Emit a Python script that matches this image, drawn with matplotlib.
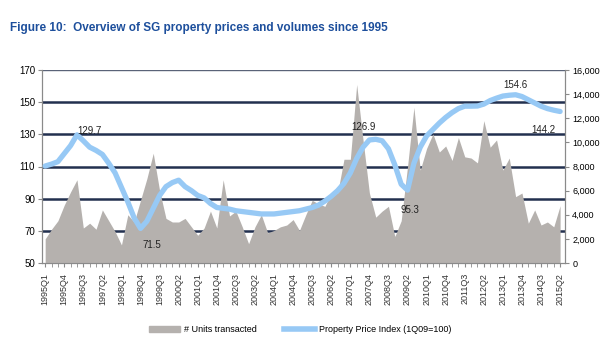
import numpy as np
import matplotlib
matplotlib.use("Agg")
import matplotlib.pyplot as plt
from matplotlib.patches import Patch
from matplotlib.lines import Line2D

plt.rcParams['font.family'] = ['Liberation Sans', 'DejaVu Sans']

# quarters 1995Q1 .. 2015Q2
quarters = [f"{y}Q{q}" for y in range(1995, 2016) for q in range(1, 5)][:82]

# units transacted (right axis)
units = [2000, 2800, 3500, 4800, 5900, 6900, 2900, 3300, 2800, 4400,
         3500, 2600, 1500, 4000, 3400, 5200, 7000, 9100, 6000, 3700,
         3400, 3400, 3700, 3000, 2300, 2900, 4300, 2900, 6900, 3900,
         4300, 3000, 1600, 3000, 4000, 2500, 2700, 3000, 3150, 3600,
         2700, 4000, 5200, 4900, 4700, 5800, 5800, 8600, 8600, 14800,
         10200, 5800, 3800, 4300, 4700, 2200, 3500, 8000, 12900, 7700,
         9500, 10700, 9200, 9700, 8500, 10400, 8800, 8700, 8300, 11800,
         9600, 10200, 7700, 8700, 5500, 5800, 3300, 4400, 3150, 3400,
         3000, 4750]

# property price index, 1Q09=100 (left axis)
ppi = [110.3, 111.5, 113, 118, 123, 129.7, 126, 122, 120, 117.5,
       112, 106, 97, 88, 78, 71.5, 76, 84, 92, 97.5,
       100, 101.5, 97.5, 95, 92, 90.5, 87, 84.5, 84, 83.5,
       82.5, 82, 81.5, 81, 80.5, 80.5, 80.5, 81, 81.5, 82,
       82.5, 83.5, 84.5, 86, 88.5, 91.5, 95, 99.5, 106, 115,
       122, 126.5, 126.9, 126, 121, 111, 99, 95.3, 112, 122,
       129, 133, 137, 140.5, 143.5, 146, 147.5, 147.5, 147.6, 148.8,
       151, 152.5, 153.8, 154.3, 154.6, 153.5, 151.5, 149.5, 147.5, 146,
       145, 144.2]

labelled = {5: "129.7", 15: "71.5", 52: "126.9", 57: "95.3", 74: "154.6", 81: "144.2"}
label_offsets = {5: (9, 3), 15: (8, -12), 52: (-9, 9), 57: (2, -14), 74: (0, 7), 81: (-12, -13)}

x = np.arange(len(quarters))
grid_col = '#22304f'
axis_col = '#8a8a8a'

fig = plt.figure(figsize=[6, 3.6], dpi=100)
ax = fig.add_axes([0.07, 0.2694, 0.872, 0.5362])
ax.set_xlim(-0.5, 81.8)
ax.set_ylim(50, 170)
ax.set_yticks(range(50, 171, 20))
for v in range(70, 151, 20):
    ax.axhline(v, color=grid_col, lw=1.8, zorder=0)
ax.axhline(170, color='#5a6378', lw=1.0, zorder=0)

axv = ax.twinx()
axv.set_ylim(0, 16000)
axv.set_yticks(range(0, 16001, 2000))
axv.set_yticklabels([f"{v:,}" for v in range(0, 16001, 2000)])
axv.fill_between(x, units, 0, color='#b5b1ae', lw=0)

axp = ax.twinx()
axp.set_ylim(50, 170)
axp.plot(x, ppi, color='#97c9f5', lw=3.8, solid_capstyle='round')
axp.axis('off')
for i, txt in labelled.items():
    dx, dy = label_offsets[i]
    axp.annotate(txt, (x[i], ppi[i]), xytext=(dx, dy), textcoords='offset points',
                 ha='center', va='center', fontsize=7, color='#222222')

ax.set_xticks(x[::3])
ax.set_xticklabels(quarters[::3], rotation=90, fontsize=6.5, color='#333333')
ax.set_xticks(x, minor=True)
ax.tick_params(axis='x', which='both', length=3, color=axis_col, pad=4)
ax.tick_params(axis='y', labelsize=7, length=3, color=axis_col, pad=2)
axv.tick_params(axis='y', labelsize=6.5, length=3, color=axis_col, pad=2)

for a in (ax, axv):
    a.spines['top'].set_visible(False)
    for s in ('left', 'right', 'bottom'):
        a.spines[s].set_color(axis_col)

fig.text(0.017, 0.915, "Figure 10:  Overview of SG property prices and volumes since 1995",
         fontsize=8.5, fontweight='bold', color='#1d4f9c')

handles = [Patch(color='#b5b1ae'), Line2D([0], [0], color='#97c9f5', lw=4)]
fig.legend(handles, ['# Units transacted', 'Property Price Index (1Q09=100)'],
           loc='center', bbox_to_anchor=(0.5, 0.085), ncol=2, frameon=False,
           fontsize=6.5, handlelength=3.5, columnspacing=3, handletextpad=0.4)

fig.savefig('out.png', dpi=100)
